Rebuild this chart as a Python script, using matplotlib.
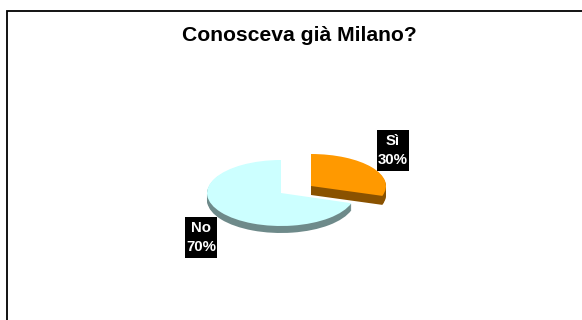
import matplotlib
matplotlib.use("Agg")
import matplotlib.pyplot as plt
from matplotlib.patches import Rectangle

categories = ["Sì", "No"]
shares = [30, 70]
top_colors = ["#FF9900", "#CCFFFF"]
side_colors = ["#8A5200", "#6E8A8A"]
title = "Conosceva già Milano?"

W, H = 582, 320
radii = {"Sì": (75, 32), "No": (74, 33)}
depths = {"Sì": 9, "No": 7}
centers = {"Sì": (311, 186), "No": (281, 193)}
label_boxes = {"Sì": (377, 130, 32, 41), "No": (185, 217, 32, 41)}

fig = plt.figure(figsize=(W / 100, H / 100), dpi=100, facecolor="white")

# Canvas in pixel units with the origin at the top left
canvas = fig.add_axes([0, 0, 1, 1])
canvas.set_xlim(0, W)
canvas.set_ylim(H, 0)
canvas.axis("off")

# Chart frame: only the left and top edges fall inside the canvas
canvas.plot([7, 7, W], [H, 11, 11], color="black", lw=1.3, solid_capstyle="butt",
            solid_joinstyle="miter", clip_on=False)

canvas.text(299, 35.5, title, ha="center", va="center", fontsize=15.2,
            fontweight="bold", family="Liberation Sans", color="black")


def draw_slice(name, share, start, face, side):
    """Draw one tilted slice as a stack of flattened wedges."""
    cx, cy = centers[name]
    rx, ry = radii[name]
    depth = depths[name]
    ax = fig.add_axes([(cx - rx * 1.25) / W, 1 - (cy + ry * 1.25 + depth) / H,
                       rx * 2.5 / W, (ry * 2.5 + depth) / H])
    ax.patch.set_alpha(0)
    for level in range(depth, -1, -1):
        y = -level / ry
        color = face if level == 0 else side
        ax.pie([share, 100 - share], startangle=90 - start, counterclock=False,
               colors=[color, "none"], center=(0, y), radius=1,
               wedgeprops={"linewidth": 0})
    ax.set_aspect("auto")
    ax.set_xlim(-1.25, 1.25)
    ax.set_ylim(-1.25 - depth / ry, 1.25)
    ax.axis("off")


draw_slice("No", shares[1], shares[0] * 3.6, top_colors[1], side_colors[1])
draw_slice("Sì", shares[0], 0, top_colors[0], side_colors[0])

# Percentage labels on black boxes, above the slices
overlay = fig.add_axes([0, 0, 1, 1], zorder=5)
overlay.set_xlim(0, W)
overlay.set_ylim(H, 0)
overlay.axis("off")
for name, share in zip(categories, shares):
    x, y, w, h = label_boxes[name]
    overlay.add_patch(Rectangle((x, y), w, h, facecolor="black", edgecolor="none"))
    overlay.text(x + w / 2, y + h / 2, f"{name}\n{share}%", ha="center", va="center",
                 color="white", fontsize=10.8, fontweight="bold",
                 family="Liberation Sans", linespacing=1.45)

fig.savefig("out.png", dpi=100)
